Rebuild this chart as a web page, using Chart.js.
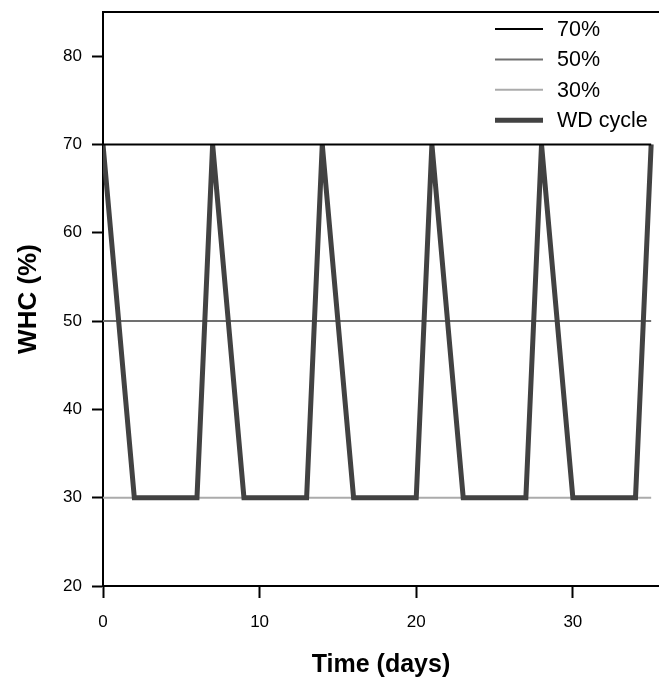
<!DOCTYPE html>
<html>
<head>
<meta charset="utf-8">
<script src="https://cdn.jsdelivr.net/npm/chart.js@4.4.1/dist/chart.umd.min.js"></script>
<style>
  html, body { margin: 0; padding: 0; background: #fff; }
  canvas { display: block; }
</style>
</head>
<body>
<canvas id="whcChart" width="659" height="682"></canvas>
<script>
// Wet-dry cycle
const cycleDays = [0, 2, 6, 7, 9, 13, 14, 16, 20, 21, 23, 27, 28, 30, 34, 35];
const cycleWHC = [70, 30, 30, 70, 30, 30, 70, 30, 30, 70, 30, 30, 70, 30, 30, 70];

// constant reference levels
const levelLabels = ['70%', '50%', '30%'];
const levelValues = [70, 50, 30];
const levelColors = ['#000000', '#707070', '#ababab'];
const levelSpan = [0, 35];

const xTicks = [0, 10, 20, 30];
const yTicks = [20, 30, 40, 50, 60, 70, 80];

const FONT = "'Liberation Sans', Arial, sans-serif";

const datasets = levelValues.map((v, i) => ({
    label: levelLabels[i],
    data: levelSpan.map(d => ({ x: d, y: v })),
    borderColor: levelColors[i],
    borderWidth: 2,
    pointRadius: 0,
    order: i === 0 ? 0 : i + 1
}));
datasets.push({
    label: 'WD cycle',
    data: cycleDays.map((d, i) => ({ x: d, y: cycleWHC[i] })),
    borderColor: '#424242',
    borderWidth: 5,
    pointRadius: 0,
    order: 1
});

// top frame line + legend drawn inside the plot, top right
const framePlugin = {
    id: 'frameAndLegend',
    afterDraw(chart) {
        const { ctx, chartArea } = chart;
        ctx.save();
        ctx.strokeStyle = '#000';
        ctx.lineWidth = 2;
        ctx.beginPath();
        ctx.moveTo(chartArea.left - 1, chartArea.top);
        ctx.lineTo(chartArea.right, chartArea.top);
        ctx.stroke();

        ctx.font = '21.5px ' + FONT;
        ctx.textBaseline = 'middle';
        ctx.fillStyle = '#000';
        let y = chartArea.top + 17;
        chart.data.datasets.forEach(ds => {
            ctx.strokeStyle = ds.borderColor;
            ctx.lineWidth = ds.borderWidth;
            ctx.beginPath();
            ctx.moveTo(495, y);
            ctx.lineTo(543, y);
            ctx.stroke();
            ctx.fillText(ds.label, 557, y + 1);
            y += 30.4;
        });
        ctx.restore();
    }
};

new Chart(document.getElementById('whcChart'), {
    type: 'line',
    data: { datasets },
    options: {
        responsive: false,
        animation: false,
        layout: { padding: { top: 12, right: 0, left: 0, bottom: 0 } },
        plugins: {
            legend: { display: false },
            tooltip: { enabled: false }
        },
        scales: {
            x: {
                type: 'linear',
                min: 0,
                max: 35.5,
                afterFit: s => { s.height = 96; s.paddingLeft = 0; s.paddingRight = 0; },
                afterBuildTicks: s => { s.ticks = xTicks.map(v => ({ value: v })); },
                border: { display: true, color: '#000', width: 2 },
                grid: { drawOnChartArea: false, tickLength: 12, tickColor: '#000', tickWidth: 2 },
                ticks: { color: '#000', padding: 14, font: { family: FONT, size: 17 } },
                title: {
                    display: true,
                    text: 'Time (days)',
                    color: '#000',
                    font: { family: FONT, size: 25, weight: 'bold' },
                    padding: { top: 0, bottom: 2 }
                }
            },
            y: {
                min: 20,
                max: 85,
                afterFit: s => { s.width = 103; s.paddingTop = 0; s.paddingBottom = 0; },
                afterBuildTicks: s => { s.ticks = yTicks.map(v => ({ value: v })); },
                border: { display: true, color: '#000', width: 2 },
                grid: { drawOnChartArea: false, tickLength: 11, tickColor: '#000', tickWidth: 2 },
                ticks: { color: '#000', padding: 10, font: { family: FONT, size: 17 } },
                title: {
                    display: true,
                    text: 'WHC (%)',
                    color: '#000',
                    font: { family: FONT, size: 26, weight: 'bold' },
                    padding: { top: 13, bottom: 0 }
                }
            }
        }
    },
    plugins: [framePlugin]
});
</script>
</body>
</html>
